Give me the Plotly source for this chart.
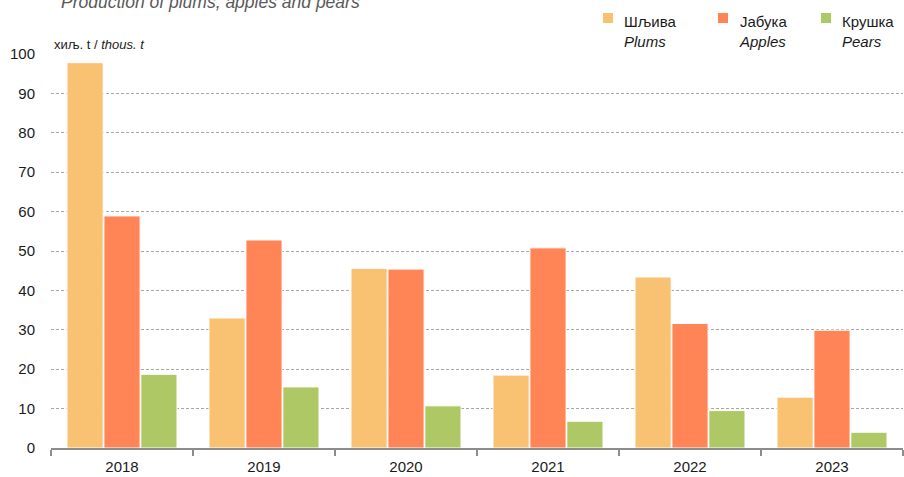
import plotly.graph_objects as go

years = ["2018", "2019", "2020", "2021", "2022", "2023"]
plums = [97.8, 33.0, 45.6, 18.5, 43.4, 12.9]
apples = [58.9, 52.8, 45.4, 50.8, 31.6, 29.9]
pears = [18.7, 15.5, 10.7, 6.8, 9.5, 4.0]

names_sr = ["Шљива", "Јабука", "Крушка"]
names_en = ["Plums", "Apples", "Pears"]
colors = ["#F9C172", "#FF8456", "#AEC866"]
values = [plums, apples, pears]

W, H = 904, 477
ml, mr, mt, mb = 51, 1, 54, 29
pw, ph = W - ml - mr, H - mt - mb


def px(x):
    return (x - ml) / pw


def py(y):
    return (H - mb - y) / ph


fig = go.Figure()
for sr, en, vals, col in zip(names_sr, names_en, values, colors):
    fig.add_trace(go.Bar(x=years, y=vals, name=f"{sr} / {en}",
                         marker=dict(color=col, line=dict(color="white", width=1))))

annotations = [
    dict(text="Production of plums, apples and pears", font=dict(size=17.5, color="#595959", style="italic"),
         xref="paper", yref="paper", x=px(59), y=py(2), xanchor="left", yanchor="middle", showarrow=False),
    dict(text="хиљ. t / <i>thous. t</i>", font=dict(size=13, color="#1a1a1a"),
         xref="paper", yref="paper", x=px(52), y=1.0, xanchor="left", yanchor="bottom", showarrow=False),
]
shapes = []
leg_sq_x = [603, 718, 821]
leg_tx_x = [622, 737, 840]
for sr, en, col, sx, tx in zip(names_sr, names_en, colors, leg_sq_x, leg_tx_x):
    shapes.append(dict(type="rect", xref="paper", yref="paper", x0=px(sx), x1=px(sx + 10),
                       y0=py(23), y1=py(13), fillcolor=col, line=dict(width=0)))
    annotations.append(dict(text=f"{sr}<br><i>{en}</i>", font=dict(size=15, color="#1a1a1a"),
                            xref="paper", yref="paper", x=px(tx), y=py(31), xanchor="left", yanchor="middle",
                            align="left", showarrow=False))

fig.update_layout(
    width=W, height=H,
    margin=dict(l=ml, r=mr, t=mt, b=mb, autoexpand=False),
    paper_bgcolor="white", plot_bgcolor="white",
    font=dict(family="Liberation Sans, Arial", size=15, color="#1a1a1a"),
    barmode="group", bargap=0.22, bargroupgap=0.02,
    showlegend=False,
    xaxis=dict(showline=True, linecolor="#8c8c8c", linewidth=2, ticks="outside", tickson="boundaries",
               ticklen=6, tickcolor="#8c8c8c", tickwidth=2, showgrid=False, tickfont=dict(size=15),
               ticklabelstandoff=4, automargin=False),
    yaxis=dict(range=[0, 100], dtick=10, showgrid=True, gridcolor="#a8a8a8", griddash="3px,2px", gridwidth=1,
               zeroline=False, showline=False, ticks="", tickfont=dict(size=15), ticklabelstandoff=15,
               automargin=False),
    annotations=annotations,
    shapes=shapes,
)
fig.write_html("out.html", config={"displayModeBar": False},
               post_script="document.body.style.margin='0';document.body.style.overflow='hidden';")
